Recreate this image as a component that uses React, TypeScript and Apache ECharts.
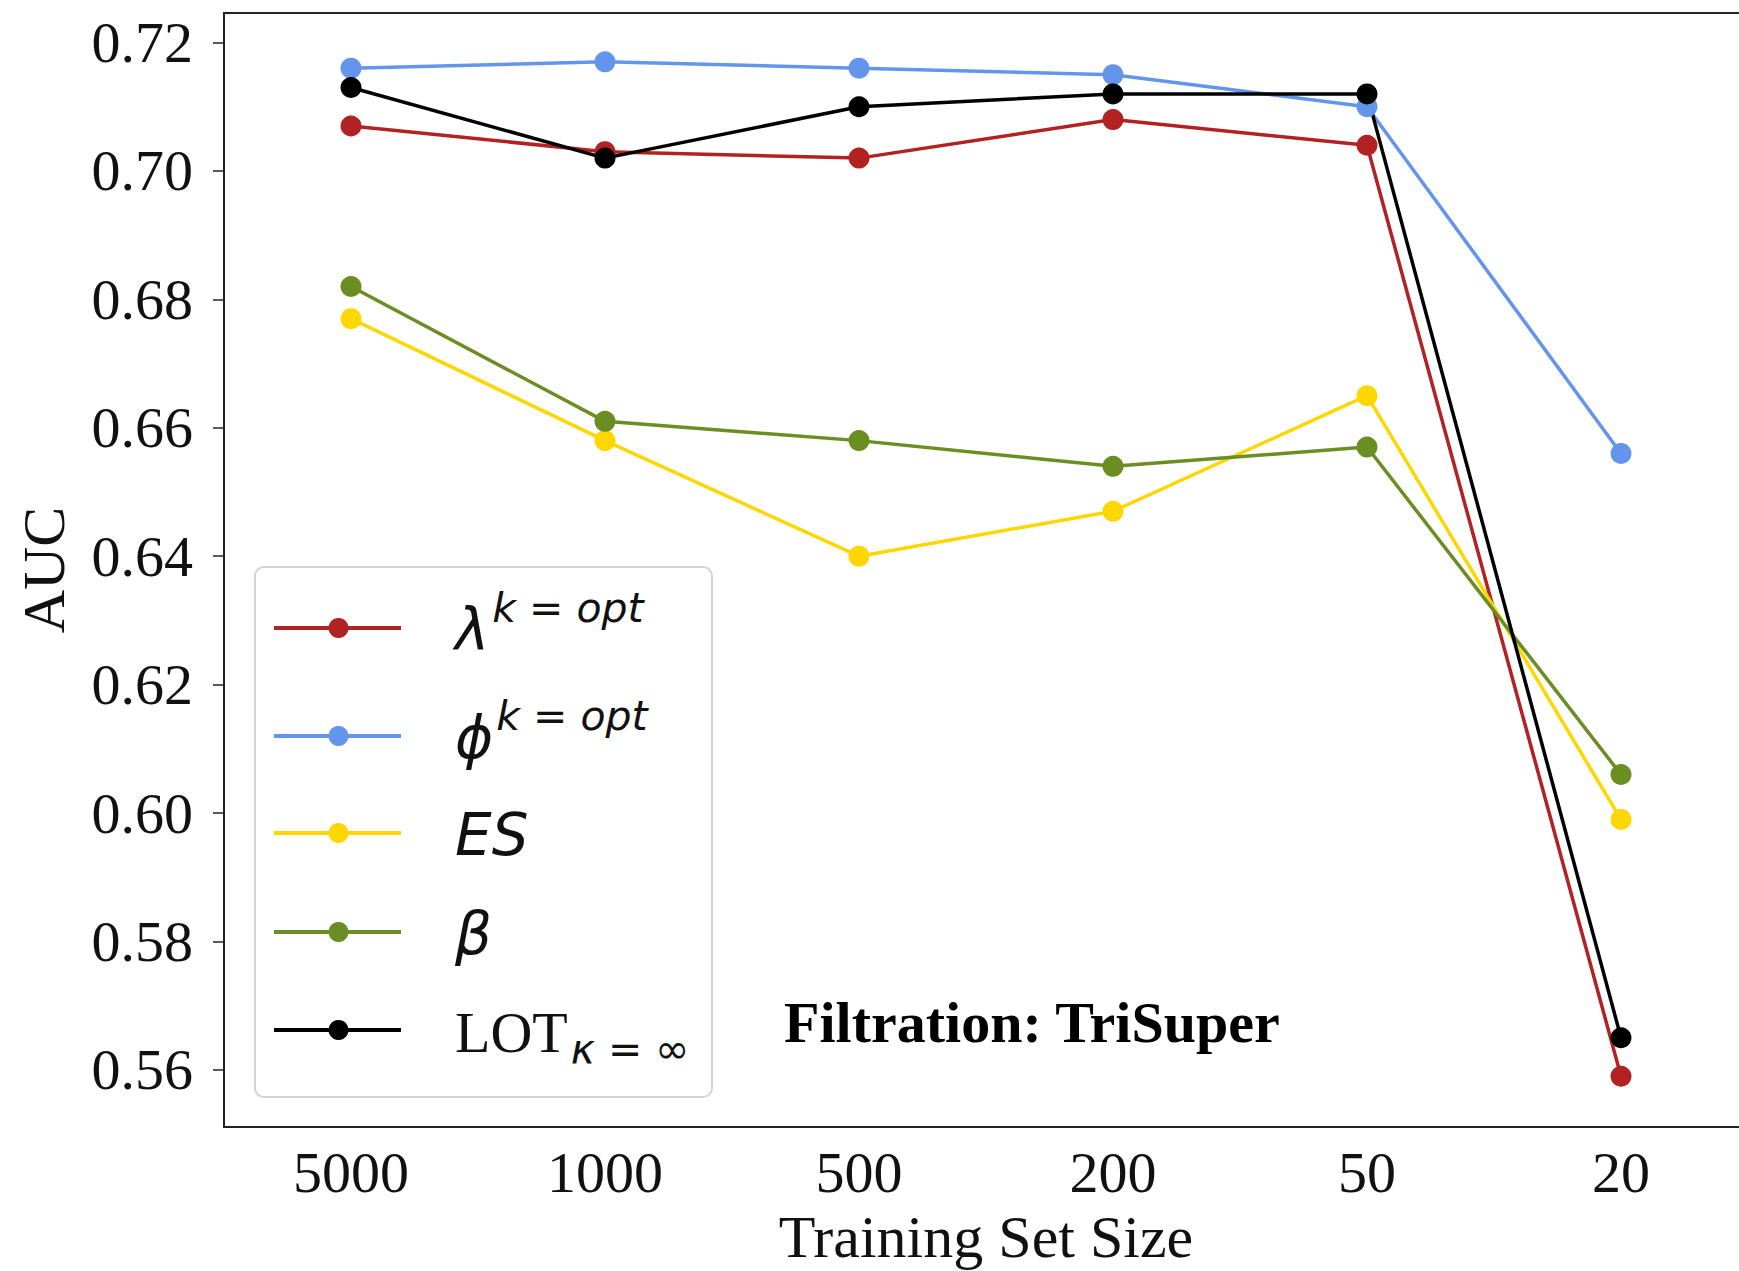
import React, { useEffect, useRef } from "react";
import * as echarts from "echarts";

// Training set sizes along the x axis
const sizes = ["5000", "1000", "500", "200", "50", "20"];

// AUC per method
const lambdaOpt = [0.707, 0.703, 0.702, 0.708, 0.704, 0.559];
const phiOpt = [0.716, 0.717, 0.716, 0.715, 0.71, 0.656];
const esValues = [0.677, 0.658, 0.64, 0.647, 0.665, 0.599];
const betaValues = [0.682, 0.661, 0.658, 0.654, 0.657, 0.606];
const lotValues = [0.713, 0.702, 0.71, 0.712, 0.712, 0.565];

// y tick values
const yTicks = [0.56, 0.58, 0.6, 0.62, 0.64, 0.66, 0.68, 0.7, 0.72];

const SERIF = '"Liberation Serif", "Times New Roman", serif';
const MATH = '"DejaVu Sans", sans-serif';

type Method = {
  name: string;
  data: number[];
  color: string;
  base: string;
  baseFamily: string;
  baseItalic: boolean;
  script?: string;
  scriptKind?: "sup" | "sub";
};

const methods: Method[] = [
  { name: "λ k=opt", data: lambdaOpt, color: "#b22222", base: "λ", baseFamily: MATH, baseItalic: true, script: "k = opt", scriptKind: "sup" },
  { name: "ϕ k=opt", data: phiOpt, color: "#6495ed", base: "ϕ", baseFamily: MATH, baseItalic: true, script: "k = opt", scriptKind: "sup" },
  { name: "ES", data: esValues, color: "#ffd700", base: "ES", baseFamily: MATH, baseItalic: true },
  { name: "β", data: betaValues, color: "#6b8e23", base: "β", baseFamily: MATH, baseItalic: true },
  { name: "LOT κ=∞", data: lotValues, color: "#000000", base: "LOT", baseFamily: SERIF, baseItalic: false, script: "κ = ∞", scriptKind: "sub" },
];

const measureCtx = document.createElement("canvas").getContext("2d")!;
function textWidth(text: string, font: string) {
  measureCtx.font = font;
  return measureCtx.measureText(text).width;
}

// fraction of the font size between the alphabetic and the central baseline
function centralOffset(family: string) {
  return family === SERIF ? 0.3375 : 0.346;
}

function buildLegend() {
  const box = { x: 255, y: 567, w: 457, h: 530 };
  const rowY = [628, 736, 833, 932, 1030];
  const lineX1 = 274;
  const lineX2 = 401;
  const textX = 455;
  const baseSize = 58;
  const scriptSize = 41;
  const children: any[] = [
    {
      type: "rect",
      shape: { x: box.x, y: box.y, width: box.w, height: box.h, r: 9 },
      style: { fill: "rgba(255,255,255,0.85)", stroke: "#d3d3d3", lineWidth: 2 },
      z: 100,
    },
  ];
  methods.forEach((m, i) => {
    const y = rowY[i];
    children.push({
      type: "line",
      shape: { x1: lineX1, y1: y, x2: lineX2, y2: y },
      style: { stroke: m.color, lineWidth: 4 },
      z: 101,
    });
    children.push({
      type: "circle",
      shape: { cx: (lineX1 + lineX2) / 2 + 1, cy: y, r: 10 },
      style: { fill: m.color },
      z: 102,
    });
    const baseline = y + 22;
    const baseFont = `${m.baseItalic ? "italic " : ""}${baseSize}px ${m.baseFamily}`;
    children.push({
      type: "text",
      x: textX,
      y: baseline - centralOffset(m.baseFamily) * baseSize,
      style: {
        text: m.base,
        fontFamily: m.baseFamily,
        fontStyle: m.baseItalic ? "italic" : "normal",
        fontSize: baseSize,
        fill: "#111",
        align: "left",
        verticalAlign: "middle",
      },
      z: 102,
    });
    if (m.script) {
      const sx = textX + textWidth(m.base, baseFont) + 3;
      const sBase = m.scriptKind === "sup" ? baseline - 28 : baseline + 11;
      children.push({
        type: "text",
        x: sx,
        y: sBase - centralOffset(MATH) * scriptSize,
        style: {
          text: m.script,
          fontFamily: MATH,
          fontStyle: "italic",
          fontSize: scriptSize,
          fill: "#111",
          align: "left",
          verticalAlign: "middle",
        },
        z: 102,
      });
    }
  });
  return { type: "group", children };
}

export default function App() {
  const ref = useRef<HTMLDivElement>(null);

  useEffect(() => {
    const chart = echarts.init(ref.current!, null, { renderer: "svg" });
    const axisColor = "#222";
    const option: any = {
      animation: false,
      backgroundColor: "#ffffff",
      grid: {
        left: 224,
        top: 13,
        width: 1524,
        height: 1114,
        outerBoundsMode: "none",
        containLabel: false,
        show: true,
        borderColor: axisColor,
        borderWidth: 2,
        backgroundColor: "transparent",
      },
      xAxis: {
        type: "category",
        data: sizes,
        boundaryGap: true,
        name: "Training Set Size",
        nameLocation: "middle",
        nameGap: 80,
        nameTextStyle: { fontFamily: SERIF, fontSize: 60, color: "#111" },
        axisLine: { lineStyle: { color: axisColor, width: 2 } },
        axisTick: { alignWithLabel: true, length: 11, lineStyle: { color: axisColor, width: 1.5 } },
        axisLabel: { fontFamily: SERIF, fontSize: 58, color: "#111", margin: 16 },
        splitLine: { show: false },
      },
      yAxis: {
        type: "value",
        min: 0.5511,
        max: 0.7246,
        name: "AUC",
        nameLocation: "middle",
        nameGap: 150,
        nameRotate: 90,
        nameTextStyle: { fontFamily: SERIF, fontSize: 60, color: "#111" },
        axisLine: { show: true, lineStyle: { color: axisColor, width: 2 } },
        axisTick: { show: true, length: 11, customValues: yTicks, lineStyle: { color: axisColor, width: 1.5 } },
        axisLabel: {
          customValues: yTicks,
          formatter: (v: number) => v.toFixed(2),
          fontFamily: SERIF,
          fontSize: 58,
          color: "#111",
          margin: 31,
        },
        splitLine: { show: false },
      },
      series: methods.map((m) => ({
        name: m.name,
        type: "line",
        data: m.data,
        symbol: "circle",
        symbolSize: 21,
        showSymbol: true,
        lineStyle: { color: m.color, width: 3.5 },
        itemStyle: { color: m.color },
        emphasis: { disabled: true },
      })),
      graphic: [
        buildLegend(),
        {
          type: "text",
          x: 784,
          y: 1042 - 0.3375 * 58,
          style: {
            text: "Filtration: TriSuper",
            fontFamily: SERIF,
            fontWeight: "bold",
            fontSize: 58,
            fill: "#000",
            align: "left",
            verticalAlign: "middle",
          },
          z: 103,
        },
      ],
    };
    chart.setOption(option);
    return () => chart.dispose();
  }, []);

  return (
    <div
      ref={ref}
      style={{ position: "absolute", left: 0, top: 0, width: 1739, height: 1271, background: "#fff" }}
    />
  );
}
